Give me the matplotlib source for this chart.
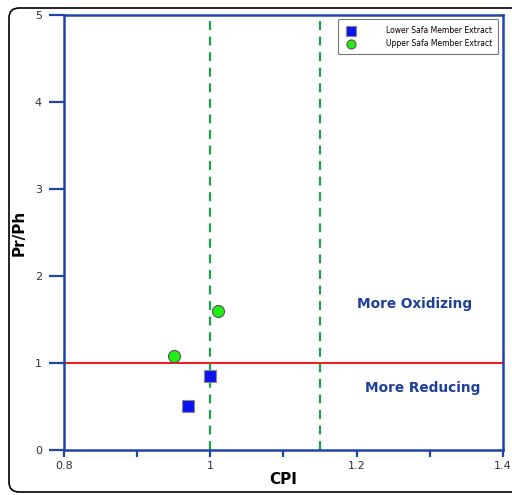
import matplotlib.pyplot as plt
from matplotlib.patches import FancyBboxPatch
from matplotlib.ticker import MultipleLocator

# CPI vs Pr/Ph values for the two extract groups
lower_cpi = [0.97, 1.0]
lower_prph = [0.51, 0.85]
upper_cpi = [0.95, 1.01]
upper_prph = [1.08, 1.60]

cpi_limits = [1.0, 1.15]
prph_limit = 1.0

fig = plt.figure(figsize=(5.12, 4.95), dpi=100)
ax = fig.add_axes([0.125, 0.091, 0.857, 0.879])

# frame around the whole figure (runs off the right edge)
frame = FancyBboxPatch((9 / 512, 3 / 495), 530 / 512, 484 / 495,
                       boxstyle="round,pad=0,rounding_size=0.02",
                       transform=fig.transFigure, fill=False,
                       edgecolor='black', linewidth=1.2, clip_on=False)
fig.patches.append(frame)

blue = '#1f45a8'
ax.axhline(prph_limit, color='#ee1c24', linewidth=1.5, zorder=2)
for c in cpi_limits:
    ax.axvline(c, color='#1aa34a', linestyle=(0, (4, 3)), linewidth=1.6, zorder=2)

ax.scatter(lower_cpi, lower_prph, marker='s', s=75, color='#0a14f0',
           edgecolor='#888888', linewidth=0.8, zorder=3,
           label='Lower Safa Member Extract')
ax.scatter(upper_cpi, upper_prph, marker='o', s=75, color='#22ee11',
           edgecolor='#555555', linewidth=0.8, zorder=3,
           label='Upper Safa Member Extract')

ax.text(1.28, 1.68, 'More Oxidizing', color='#1f3f9f', fontsize=9.8,
        fontweight='bold', ha='center', va='center')
ax.text(1.291, 0.71, 'More Reducing', color='#1f3f9f', fontsize=9.8,
        fontweight='bold', ha='center', va='center')

ax.set_xlim(0.8, 1.4)
ax.set_ylim(0, 5)
ax.xaxis.set_major_locator(MultipleLocator(0.2))
ax.xaxis.set_minor_locator(MultipleLocator(0.1))
ax.yaxis.set_major_locator(MultipleLocator(1))
ax.set_xticks([0.8, 1.0, 1.2, 1.4])
ax.set_xticklabels(['0.8', '1', '1.2', '1.4'])

for sp in ax.spines.values():
    sp.set_color(blue)
    sp.set_linewidth(1.8)
ax.tick_params(which='both', direction='out', color=blue, width=1.6,
               labelsize=8, labelcolor='#333333')
ax.tick_params(axis='x', which='both', length=5, pad=3)
ax.tick_params(axis='y', which='major', length=11, pad=5)

ax.set_xlabel('CPI', fontsize=11, fontweight='bold', labelpad=1)
ax.set_ylabel('Pr/Ph', fontsize=11, fontweight='bold', labelpad=6)

leg = ax.legend(loc='upper right', fontsize=5.5, frameon=True, fancybox=True,
                edgecolor='#555555', markerscale=0.75, handletextpad=3.5,
                borderpad=0.8, labelspacing=0.6, borderaxespad=0.6)
leg.get_frame().set_linewidth(0.8)

fig.savefig('out.png', dpi=100)
